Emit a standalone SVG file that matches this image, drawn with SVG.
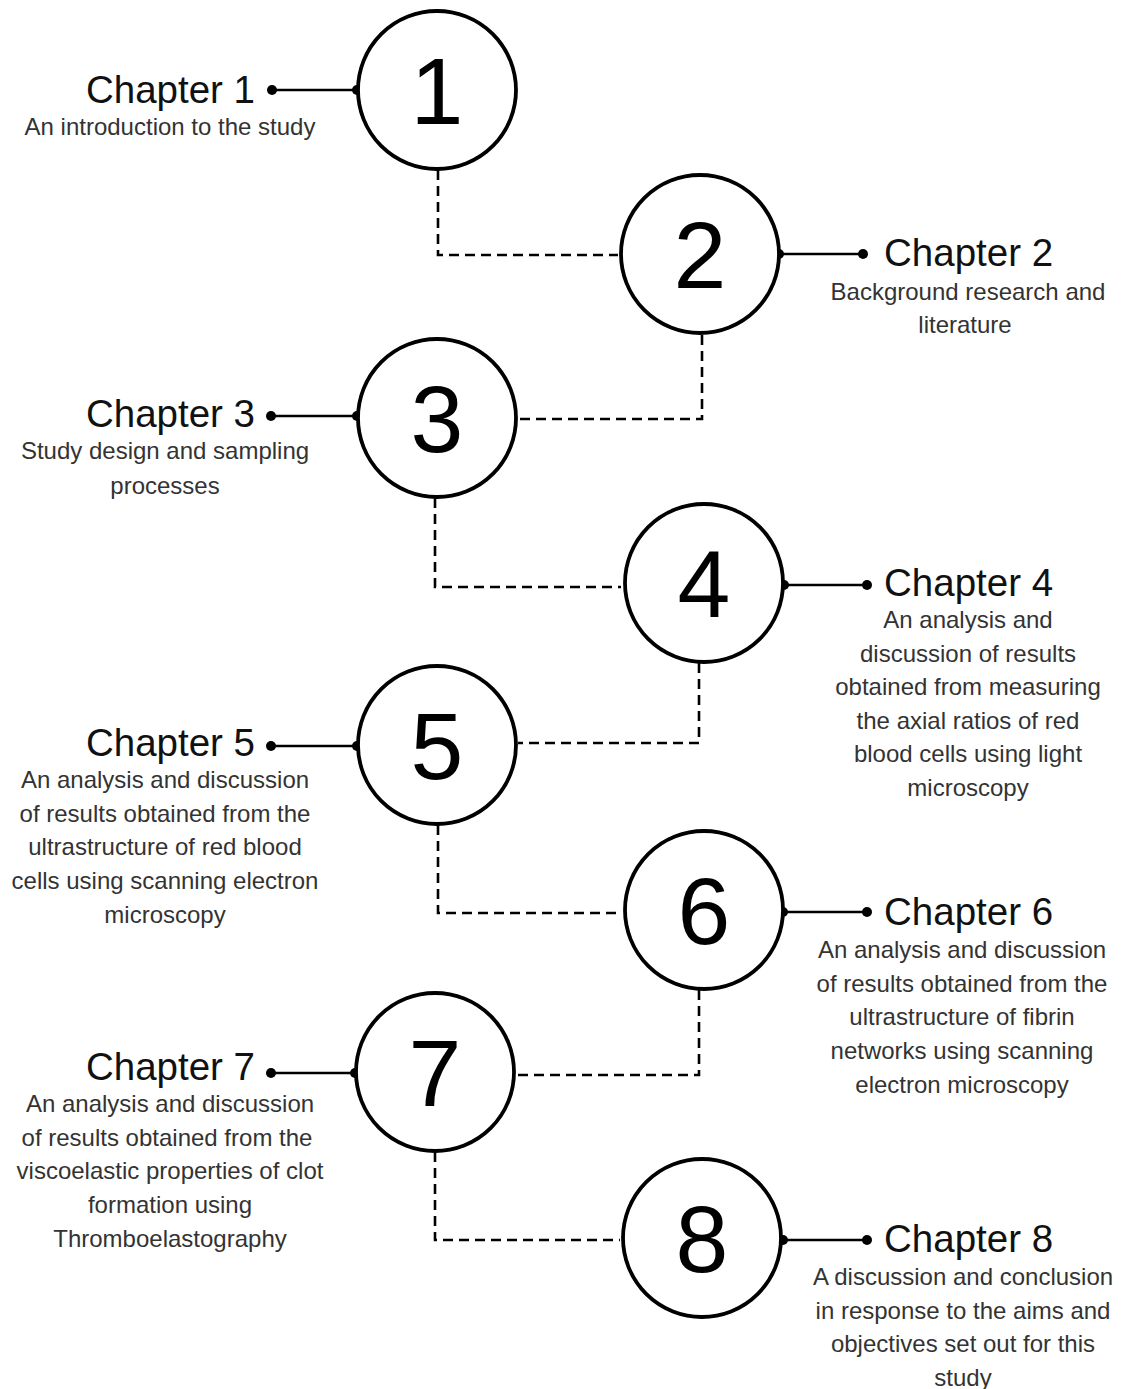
<svg xmlns="http://www.w3.org/2000/svg" width="1122" height="1389" viewBox="0 0 1122 1389">
<style>
.bg{fill:#fff}
.circ{fill:#fff;stroke:#000;stroke-width:3.8}
.num{font-family:"Liberation Sans",Arial,sans-serif;font-size:95px;fill:#000;text-anchor:middle}
.head{font-family:"Liberation Sans",Arial,sans-serif;font-size:38.5px;fill:#111}
.sub{font-family:"Liberation Sans",Arial,sans-serif;font-size:24px;fill:#333;text-anchor:middle}
.solid{stroke:#000;stroke-width:2.6;fill:none}
.dash{stroke:#000;stroke-width:2.6;fill:none;stroke-dasharray:10 6}
.dot{fill:#000}
</style>
<rect class="bg" x="0" y="0" width="1122" height="1389"/>
<g id="connectors">
<path class="dash" d="M438 170 V255 H618"/>
<path class="dash" d="M702 335 V419 H518"/>
<path class="dash" d="M435 498 V587 H621"/>
<path class="dash" d="M699 663 V743 H518"/>
<path class="dash" d="M438 825 V913 H622"/>
<path class="dash" d="M699 990 V1075 H517"/>
<path class="dash" d="M435 1152 V1240 H620"/>
<line class="solid" x1="272" y1="90" x2="357" y2="90"/>
<circle class="dot" cx="272" cy="90" r="5"/><circle class="dot" cx="357" cy="90" r="5"/>
<line class="solid" x1="779" y1="254" x2="863" y2="254"/>
<circle class="dot" cx="779" cy="254" r="5"/><circle class="dot" cx="863" cy="254" r="5"/>
<line class="solid" x1="271" y1="416" x2="357" y2="416"/>
<circle class="dot" cx="271" cy="416" r="5"/><circle class="dot" cx="357" cy="416" r="5"/>
<line class="solid" x1="784" y1="585" x2="867" y2="585"/>
<circle class="dot" cx="784" cy="585" r="5"/><circle class="dot" cx="867" cy="585" r="5"/>
<line class="solid" x1="271" y1="746" x2="357" y2="746"/>
<circle class="dot" cx="271" cy="746" r="5"/><circle class="dot" cx="357" cy="746" r="5"/>
<line class="solid" x1="783" y1="912" x2="867" y2="912"/>
<circle class="dot" cx="783" cy="912" r="5"/><circle class="dot" cx="867" cy="912" r="5"/>
<line class="solid" x1="271" y1="1073" x2="355" y2="1073"/>
<circle class="dot" cx="271" cy="1073" r="5"/><circle class="dot" cx="355" cy="1073" r="5"/>
<line class="solid" x1="783" y1="1240" x2="867" y2="1240"/>
<circle class="dot" cx="783" cy="1240" r="5"/><circle class="dot" cx="867" cy="1240" r="5"/>
</g>
<g id="node1">
<circle class="circ" cx="437" cy="90" r="79"/>
<text class="num" x="437" y="124">1</text>
<text class="head" x="255" y="103" text-anchor="end">Chapter 1</text>
<text class="sub" x="170" y="135">An introduction to the study</text>
</g>
<g id="node2">
<circle class="circ" cx="700" cy="254" r="79"/>
<text class="num" x="700" y="288">2</text>
<text class="head" x="884" y="266">Chapter 2</text>
<text class="sub" x="968" y="300"><tspan x="968">Background research and</tspan><tspan x="965" dy="33">literature</tspan></text>
</g>
<g id="node3">
<circle class="circ" cx="437" cy="418" r="79"/>
<text class="num" x="437" y="452">3</text>
<text class="head" x="255" y="427" text-anchor="end">Chapter 3</text>
<text class="sub" x="165" y="459"><tspan x="165">Study design and sampling</tspan><tspan x="165" dy="34.5">processes</tspan></text>
</g>
<g id="node4">
<circle class="circ" cx="704" cy="583" r="79"/>
<text class="num" x="704" y="617">4</text>
<text class="head" x="884" y="596">Chapter 4</text>
<text class="sub" x="968" y="628"><tspan x="968">An analysis and</tspan><tspan x="968" dy="33.5">discussion of results</tspan><tspan x="968" dy="33.5">obtained from measuring</tspan><tspan x="968" dy="33.5">the axial ratios of red</tspan><tspan x="968" dy="33.5">blood cells using light</tspan><tspan x="968" dy="33.5">microscopy</tspan></text>
</g>
<g id="node5">
<circle class="circ" cx="437" cy="745" r="79"/>
<text class="num" x="437" y="779">5</text>
<text class="head" x="255" y="756" text-anchor="end">Chapter 5</text>
<text class="sub" x="165" y="788"><tspan x="165">An analysis and discussion</tspan><tspan x="165" dy="33.5">of results obtained from the</tspan><tspan x="165" dy="33.5">ultrastructure of red blood</tspan><tspan x="165" dy="34">cells using scanning electron</tspan><tspan x="165" dy="33.5">microscopy</tspan></text>
</g>
<g id="node6">
<circle class="circ" cx="704" cy="910" r="79"/>
<text class="num" x="704" y="944">6</text>
<text class="head" x="884" y="925">Chapter 6</text>
<text class="sub" x="962" y="958"><tspan x="962">An analysis and discussion</tspan><tspan x="962" dy="33.5">of results obtained from the</tspan><tspan x="962" dy="33.5">ultrastructure of fibrin</tspan><tspan x="962" dy="34">networks using scanning</tspan><tspan x="962" dy="33.5">electron microscopy</tspan></text>
</g>
<g id="node7">
<circle class="circ" cx="435" cy="1072" r="79"/>
<text class="num" x="435" y="1106">7</text>
<text class="head" x="255" y="1080" text-anchor="end">Chapter 7</text>
<text class="sub" x="170" y="1112"><tspan x="170">An analysis and discussion</tspan><tspan x="167" dy="33.5">of results obtained from the</tspan><tspan x="170" dy="33.5">viscoelastic properties of clot</tspan><tspan x="170" dy="34">formation using</tspan><tspan x="170" dy="33.5">Thromboelastography</tspan></text>
</g>
<g id="node8">
<circle class="circ" cx="702" cy="1238" r="79"/>
<text class="num" x="702" y="1272">8</text>
<text class="head" x="884" y="1252">Chapter 8</text>
<text class="sub" x="963" y="1285"><tspan x="963">A discussion and conclusion</tspan><tspan x="963" dy="33.5">in response to the aims and</tspan><tspan x="963" dy="33.5">objectives set out for this</tspan><tspan x="963" dy="33.5">study</tspan></text>
</g>
</svg>
